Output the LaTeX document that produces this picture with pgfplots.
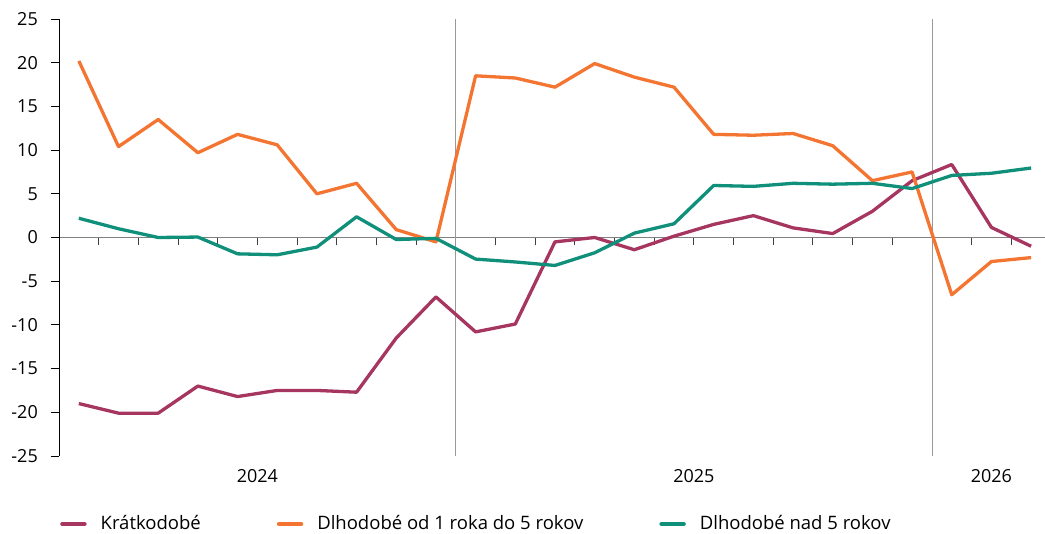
\documentclass[border=0pt]{standalone}
\usepackage{fontspec}
\setmainfont{Open Sans}
\usepackage{pgfplots}
\pgfplotsset{compat=1.18}
\definecolor{cMar}{HTML}{A6365F}
\definecolor{cOra}{HTML}{F47531}
\definecolor{cTea}{HTML}{10907A}
\begin{document}
\fontsize{18}{22}\selectfont
\begin{tikzpicture}
\begin{axis}[name=ax, scale only axis, width=986pt, height=437pt,
 xmin=-0.5, xmax=24.35, ymin=-25, ymax=25,
 axis y line*=left, axis x line*=middle,
 clip=false,
 hide obscured x ticks=false, hide obscured y ticks=false,
 x axis line style={-, draw=black!50, line width=1.3pt},
 y axis line style={-, draw=black, line width=0.8pt},
 xtick={0.5,1.5,...,23.5}, xticklabels={},
 ytick={-25,-20,...,25}, yticklabels={-25,-20,-15,-10,-5,0,5,10,15,20,25},
 tick align=outside, major tick length=8pt,
 xtick style={draw=black!75, line width=0.8pt},
 ytick style={draw=black, line width=0.8pt},
 yticklabel style={anchor=east, inner sep=0pt, xshift=-13pt, font=\fontsize{18}{22}\selectfont},
 legend columns=3,
 legend style={at={(0,-0.1556)}, anchor=west, xshift=1pt, draw=none, fill=none, inner sep=0pt,
   /tikz/every odd column/.append style={column sep=12pt},
   /tikz/every even column/.append style={column sep=74pt},
   font=\fontsize{18.5}{22}\selectfont},
 legend cell align=left,
 legend image code/.code={\draw[#1, line width=4.5pt, line cap=round] (2pt,0pt) -- (24pt,0pt);},
]
\draw[black!40, line width=0.8pt] (axis cs:9.5,-25) -- (axis cs:9.5,25);
\draw[black!40, line width=0.8pt] (axis cs:21.5,-25) -- (axis cs:21.5,25);
\addplot[cMar, line width=3.3pt, line join=round] coordinates {
(0,-19.0) (1,-20.1) (2,-20.1) (3,-17.0) (4,-18.2) (5,-17.5) (6,-17.5) (7,-17.7) (8,-11.5) (9,-6.8)
(10,-10.8) (11,-9.9) (12,-0.5) (13,0.0) (14,-1.4) (15,0.15) (16,1.5) (17,2.5) (18,1.1) (19,0.45) (20,3.0) (21,6.5)
(22,8.35) (23,1.15) (24,-1.0)};
\addlegendentry{Krátkodobé}
\addplot[cOra, line width=3.3pt, line join=round] coordinates {
(0,20.2) (1,10.4) (2,13.5) (3,9.7) (4,11.8) (5,10.6) (6,5.0) (7,6.2) (8,0.9) (9,-0.5)
(10,18.5) (11,18.25) (12,17.2) (13,19.9) (14,18.35) (15,17.2) (16,11.8) (17,11.7) (18,11.9) (19,10.5) (20,6.5) (21,7.5)
(22,-6.55) (23,-2.75) (24,-2.3)};
\addlegendentry{Dlhodobé od 1 roka do 5 rokov}
\addplot[cTea, line width=3.3pt, line join=round] coordinates {
(0,2.2) (1,1.0) (2,0.0) (3,0.05) (4,-1.87) (5,-1.98) (6,-1.1) (7,2.37) (8,-0.23) (9,-0.1)
(10,-2.47) (11,-2.8) (12,-3.2) (13,-1.75) (14,0.5) (15,1.57) (16,5.95) (17,5.85) (18,6.2) (19,6.1) (20,6.2) (21,5.6)
(22,7.1) (23,7.35) (24,7.95)};
\addlegendentry{Dlhodobé nad 5 rokov}
\node[anchor=north, inner sep=0pt, yshift=-13pt] at (axis cs:4.5,-25) {2024};
\node[anchor=north, inner sep=0pt, yshift=-13pt] at (axis cs:15.5,-25) {2025};
\node[anchor=north, inner sep=0pt, yshift=-13pt] at (axis cs:23,-25) {2026};
\end{axis}
\pgfresetboundingbox
\path[use as bounding box] ([xshift=-59pt,yshift=-78pt]ax.south west) rectangle ([yshift=19pt]ax.north east);
\end{tikzpicture}
\end{document}
